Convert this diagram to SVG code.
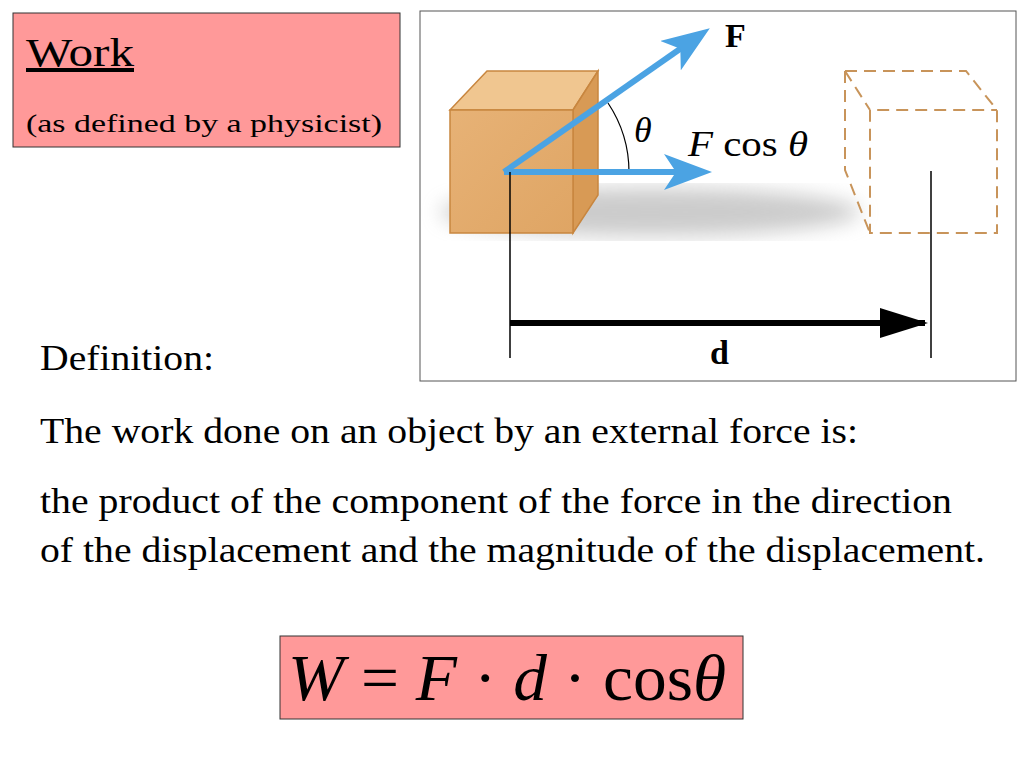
<svg xmlns="http://www.w3.org/2000/svg" width="1024" height="768" viewBox="0 0 1024 768">
<style>
.t{font-family:"Liberation Serif","Times New Roman",serif;fill:#000}
.dash{fill:none;stroke:#c8945a;stroke-width:2;stroke-dasharray:12,7}
.blue{stroke:#4ba3e3;stroke-width:6;fill:none}
</style>
<defs>
<marker id="bh" markerWidth="8" markerHeight="6" refX="6" refY="3" orient="auto" markerUnits="strokeWidth"><path d="M0,0 L8,3 L0,6 L2,3 Z" fill="#4ba3e3"/></marker>
<marker id="kh" markerWidth="8" markerHeight="5" refX="7.5" refY="2.5" orient="auto" markerUnits="strokeWidth"><path d="M0,0 L8,2.5 L0,5 Z" fill="#000"/></marker>
<filter id="blur"><feGaussianBlur stdDeviation="10"/></filter>
<linearGradient id="fg" x1="0" y1="0" x2="1" y2="1"><stop offset="0" stop-color="#e7b276"/><stop offset="1" stop-color="#dfa564"/></linearGradient>
</defs>
<rect width="1024" height="768" fill="#fff"/>
<g id="title">
<rect x="13" y="13" width="387" height="134" fill="#ff9999" stroke="#333" stroke-width="1"/>
<text class="t" x="26" y="66" font-size="40" text-decoration="underline" textLength="108" lengthAdjust="spacingAndGlyphs">Work</text>
<text class="t" x="26" y="132" font-size="26" textLength="356" lengthAdjust="spacingAndGlyphs">(as defined by a physicist)</text>
</g>
<g id="figure">
<rect x="420" y="11" width="596" height="370" fill="#fff" stroke="#555" stroke-width="1"/>
<ellipse cx="650" cy="212" rx="210" ry="24" fill="#999" opacity="0.5" filter="url(#blur)"/>
<g id="box">
<polygon points="450,110 487,71 598,71 573,110" fill="#f0c690" stroke="#c8863f" stroke-width="1.5"/>
<polygon points="573,110 598,71 598,195 573,233" fill="#d89a55" stroke="#c8863f" stroke-width="1.5"/>
<rect x="450" y="110" width="123" height="123" fill="url(#fg)" stroke="#c8863f" stroke-width="1.5"/>
</g>
<g id="ghost">
<path class="dash" d="M845,71 H966 L997,110 V233 H870 V110 H997 M845,71 L870,110 M845,71 V170 L870,233"/>
</g>
<path d="M608,103 A125,125 0 0 1 629,172" fill="none" stroke="#000" stroke-width="1.2"/>
<g id="connectors">
<line class="blue" x1="504" y1="172" x2="700" y2="35" marker-end="url(#bh)"/>
<line class="blue" x1="504" y1="172" x2="700" y2="172" marker-end="url(#bh)"/>
<line x1="510" y1="172" x2="510" y2="358" stroke="#000" stroke-width="1.5"/>
<line x1="931" y1="171" x2="931" y2="358" stroke="#000" stroke-width="1.5"/>
<line x1="510" y1="323" x2="925" y2="323" stroke="#000" stroke-width="6" marker-end="url(#kh)"/>
</g>
<text class="t" x="725" y="47" font-size="34" font-weight="bold">F</text>
<text class="t" x="634" y="142" font-size="36" font-style="italic">θ</text>
<text class="t" x="688" y="156" font-size="36" textLength="120" lengthAdjust="spacingAndGlyphs"><tspan font-style="italic">F</tspan> cos <tspan font-style="italic">θ</tspan></text>
<text class="t" x="710" y="364" font-size="34" font-weight="bold">d</text>
</g>
<g id="text">
<text class="t" x="40" y="370" font-size="36" textLength="174" lengthAdjust="spacingAndGlyphs">Definition:</text>
<text class="t" x="40" y="443" font-size="36" textLength="818" lengthAdjust="spacingAndGlyphs">The work done on an object by an external force is:</text>
<text class="t" x="40" y="513" font-size="36" textLength="912" lengthAdjust="spacingAndGlyphs">the product of the component of the force in the direction</text>
<text class="t" x="40" y="562" font-size="36" textLength="945" lengthAdjust="spacingAndGlyphs">of the displacement and the magnitude of the displacement.</text>
</g>
<g id="formula">
<rect x="280" y="636" width="463" height="83" fill="#ff9999" stroke="#333" stroke-width="1"/>
<text class="t" x="288" y="700" font-size="66" textLength="438" lengthAdjust="spacingAndGlyphs"><tspan font-style="italic">W</tspan> = <tspan font-style="italic">F</tspan> · <tspan font-style="italic">d</tspan> · cos<tspan font-style="italic">θ</tspan></text>
</g>
</svg>
